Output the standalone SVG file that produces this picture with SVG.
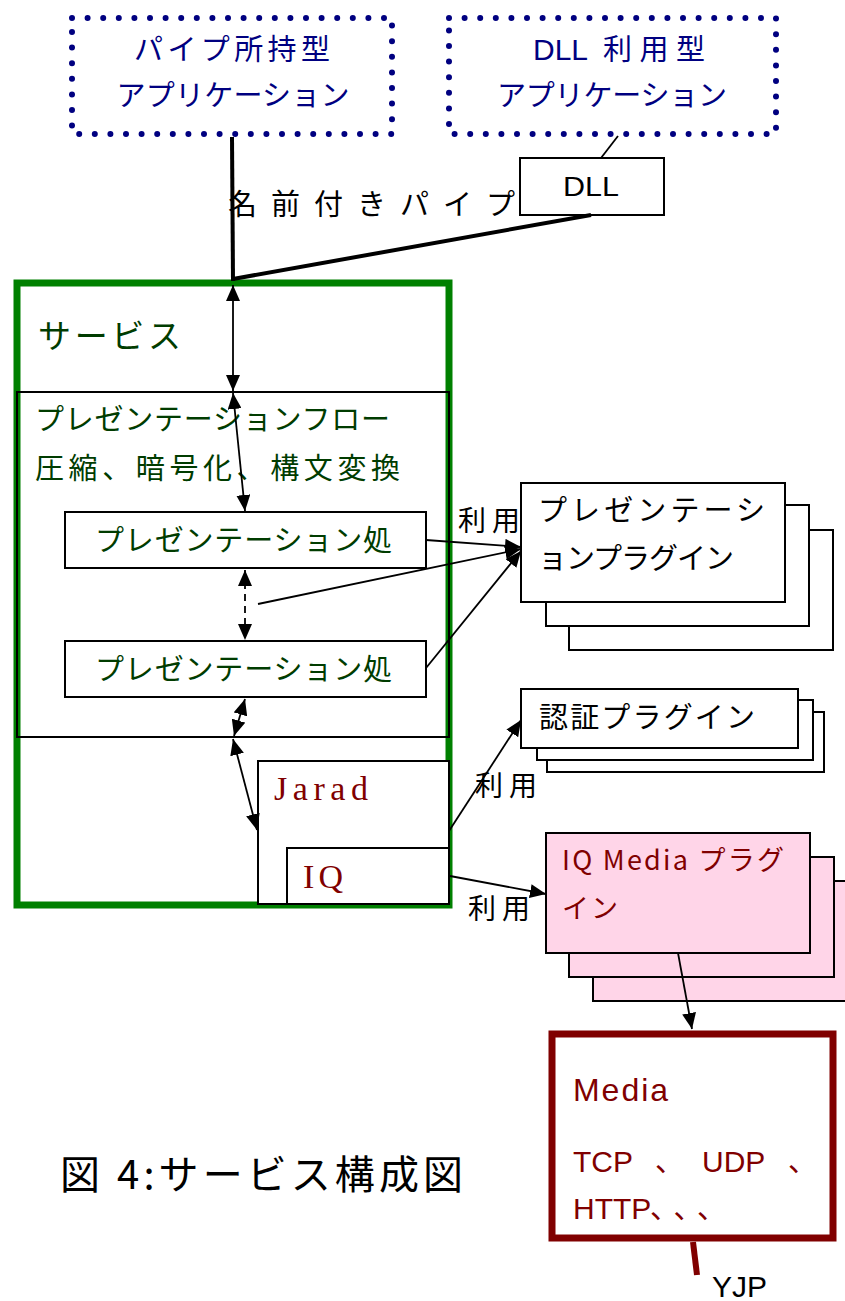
<svg xmlns="http://www.w3.org/2000/svg" width="845" height="1301" viewBox="0 0 845 1301">
<style>
text{font-family:"Noto Sans CJK JP","Liberation Sans",sans-serif;}
.lat{font-family:"Liberation Sans","Noto Sans CJK JP",sans-serif;}
.ser{font-family:"Liberation Serif","DejaVu Serif",serif;fill:#800000;font-size:34px;}
.navy{fill:#000080;font-size:29px;}
.grn{fill:#003c00;}
.red{fill:#800000;}
.box{fill:#fff;stroke:#000;stroke-width:2;}
.pink{fill:#ffd5e8;stroke:#000;stroke-width:2;}
.dot{fill:none;stroke:#000080;stroke-width:6;stroke-dasharray:0 15.6;stroke-linecap:round;}
.ln{fill:none;stroke:#000;stroke-width:1.8;}
.arr{marker-end:url(#ah);}
.dbl{marker-start:url(#ah);marker-end:url(#ah);}
</style>
<defs>
<marker id="ah" markerUnits="userSpaceOnUse" viewBox="0 0 16 14" refX="16" refY="7" markerWidth="16" markerHeight="14" orient="auto-start-reverse">
<path d="M0,0 L16,7 L0,14 Z" fill="#000"/>
</marker>
</defs>

<g id="app-pipe">
<rect class="dot" x="72" y="18" width="320" height="116"/>
<text class="navy" x="232" y="60" text-anchor="middle" textLength="196" lengthAdjust="spacing">パイプ所持型</text>
<text class="navy" x="233" y="106" text-anchor="middle" textLength="233" lengthAdjust="spacing">アプリケーション</text>
</g>
<g id="app-dll">
<rect class="dot" x="449" y="18" width="327" height="116"/>
<text class="navy lat" x="533" y="60" font-size="29" textLength="55" lengthAdjust="spacingAndGlyphs">DLL</text>
<text class="navy" x="603" y="60" textLength="102" lengthAdjust="spacing">利用型</text>
<text class="navy" x="612" y="106" text-anchor="middle" textLength="230" lengthAdjust="spacing">アプリケーション</text>
</g>
<g id="dll">
<rect class="box" x="520" y="158" width="144" height="57"/>
<text class="lat" x="591" y="196" font-size="28" text-anchor="middle" textLength="56" lengthAdjust="spacingAndGlyphs">DLL</text>
</g>
<g id="pipe-label">
<text x="228" y="215" font-size="29" textLength="287" lengthAdjust="spacing">名前付きパイプ</text>
</g>

<g id="service">
<rect x="17" y="283" width="432" height="622" fill="none" stroke="#008000" stroke-width="7"/>
<text class="grn" x="38" y="348" font-size="33" textLength="143" lengthAdjust="spacing">サービス</text>
</g>
<g id="flow">
<rect x="17" y="392" width="432" height="345" fill="none" stroke="#000" stroke-width="2"/>
<text class="grn" x="35" y="430" font-size="29" textLength="355" lengthAdjust="spacing">プレゼンテーションフロー</text>
<text class="grn" x="35" y="479" font-size="29" textLength="365" lengthAdjust="spacing">圧縮、暗号化、構文変換</text>
</g>
<g id="proc1">
<rect class="box" x="65" y="512" width="361" height="56"/>
<text class="grn" x="95" y="551" font-size="29" textLength="297" lengthAdjust="spacing">プレゼンテーション処</text>
</g>
<g id="proc2">
<rect class="box" x="65" y="641" width="361" height="56"/>
<text class="grn" x="95" y="680" font-size="29" textLength="297" lengthAdjust="spacing">プレゼンテーション処</text>
</g>
<g id="jarad">
<rect class="box" x="258" y="761" width="191" height="143"/>
<text class="ser" x="274" y="800" textLength="94" lengthAdjust="spacing">Jarad</text>
</g>
<g id="iq">
<rect class="box" x="287" y="848" width="162" height="56"/>
<text class="ser" x="303" y="888" textLength="40" lengthAdjust="spacing">IQ</text>
</g>

<g id="pres-plugin">
<rect class="box" x="569" y="530" width="264" height="120"/>
<rect class="box" x="546" y="505" width="263" height="121"/>
<rect class="box" x="521" y="483" width="264" height="119"/>
<text x="538" y="521" font-size="29" textLength="227" lengthAdjust="spacing">プレゼンテーシ</text>
<text x="538" y="569" font-size="29" textLength="196" lengthAdjust="spacing">ョンプラグイン</text>
</g>
<g id="auth-plugin">
<rect class="box" x="547" y="712" width="277" height="60"/>
<rect class="box" x="537" y="700" width="276" height="60"/>
<rect class="box" x="521" y="689" width="277" height="59"/>
<text x="539" y="728" font-size="29" textLength="216" lengthAdjust="spacing">認証プラグイン</text>
</g>
<g id="iqmedia-plugin">
<rect class="pink" x="593" y="881" width="262" height="120"/>
<rect class="pink" x="569" y="857" width="265" height="120"/>
<rect class="pink" x="546" y="833" width="264" height="120"/>
<text class="red" x="562" y="870" font-size="27" textLength="222" lengthAdjust="spacing">IQ Media プラグ</text>
<text class="red" x="562" y="918" font-size="27" textLength="56" lengthAdjust="spacing">イン</text>
</g>
<g id="media">
<rect x="552" y="1034" width="281" height="204" fill="#fff" stroke="#800000" stroke-width="7"/>
<text class="red lat" x="573" y="1101" font-size="32" textLength="95" lengthAdjust="spacing">Media</text>
<text class="red lat" x="573" y="1172" font-size="30">TCP</text>
<text class="red" x="655" y="1172" font-size="29">、</text>
<text class="red lat" x="702" y="1172" font-size="30">UDP</text>
<text class="red" x="788" y="1172" font-size="29">、</text>
<text class="red lat" x="573" y="1219" font-size="30">HTTP</text>
<text class="red" x="650" y="1219" font-size="29" textLength="76" lengthAdjust="spacing">、、、</text>
</g>
<g id="yjp">
<line x1="693" y1="1242" x2="697" y2="1275" stroke="#800000" stroke-width="6"/>
<text class="lat" x="712" y="1297" font-size="30">YJP</text>
</g>
<g id="caption">
<text x="60" y="1189" font-size="40" textLength="403" lengthAdjust="spacing">図 4:サービス構成図</text>
</g>

<g id="connectors">
<line x1="232" y1="137" x2="233" y2="281" stroke="#000" stroke-width="4"/>
<line x1="591" y1="215" x2="233" y2="279" stroke="#000" stroke-width="4"/>
<line x1="601" y1="158" x2="618" y2="136" class="ln" stroke-width="1.2"/>
<line x1="233" y1="285" x2="233" y2="391" class="ln dbl"/>
<line x1="233" y1="393" x2="245" y2="511" class="ln dbl"/>
<line x1="245" y1="570" x2="245" y2="640" class="ln dbl" stroke-dasharray="7 5"/>
<line x1="245" y1="699" x2="234" y2="736" class="ln dbl"/>
<line x1="233" y1="739" x2="257" y2="830" class="ln dbl"/>
<line x1="426" y1="540" x2="521" y2="547" class="ln arr"/>
<line x1="258" y1="604" x2="521" y2="549" class="ln arr"/>
<line x1="426" y1="668" x2="521" y2="551" class="ln arr"/>
<line x1="449" y1="831" x2="521" y2="720" class="ln arr"/>
<line x1="450" y1="876" x2="546" y2="894" class="ln arr"/>
<line x1="678" y1="953" x2="692" y2="1029" class="ln arr"/>
<text x="458" y="531" font-size="28" textLength="62" lengthAdjust="spacing">利用</text>
<text x="475" y="796" font-size="28" textLength="62" lengthAdjust="spacing">利用</text>
<text x="468" y="919" font-size="28" textLength="62" lengthAdjust="spacing">利用</text>
</g>
</svg>
